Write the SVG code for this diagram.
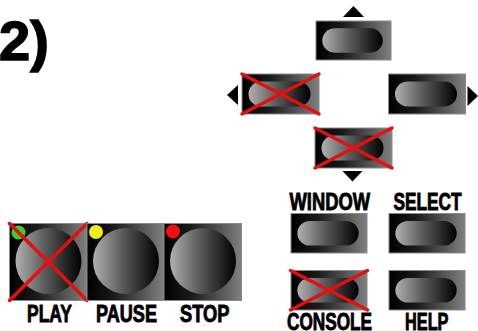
<svg xmlns="http://www.w3.org/2000/svg" width="478" height="331" viewBox="0 0 478 331">
<defs>
<linearGradient id="panel" x1="0" y1="0" x2="1" y2="0">
<stop offset="0" stop-color="#000"/>
<stop offset="0.35" stop-color="#1a1a1a"/>
<stop offset="1" stop-color="#808080"/>
</linearGradient>
<linearGradient id="knob" x1="0" y1="0" x2="1" y2="0">
<stop offset="0" stop-color="#b0b0b0"/>
<stop offset="0.45" stop-color="#5a5a5a"/>
<stop offset="1" stop-color="#000"/>
</linearGradient>
<symbol id="btn" viewBox="0 0 77 40" overflow="visible">
<rect x="0" y="0" width="77" height="40" fill="url(#panel)" stroke="#8a8a8a" stroke-width="1"/>
<rect x="6.5" y="7.5" width="62" height="25" rx="12.5" fill="url(#knob)"/>
</symbol>
</defs>
<style>
.lbl{font-family:"Liberation Sans","Arial",sans-serif;font-weight:bold;font-size:23.5px;fill:#000;stroke:#000;stroke-width:0.9}
.x{stroke:#e41010;stroke-width:3.5;stroke-linecap:round}
.arr{fill:#000}
</style>
<g id="title"><text x="-1" y="60" font-family="Liberation Sans, Arial, sans-serif" font-weight="bold" font-size="56" stroke="#000" stroke-width="1.5">2)</text></g>

<g id="up">
<polygon class="arr" points="353.5,6 364,17 343,17"/>
<use href="#btn" x="315" y="21" width="77" height="39"/>
</g>
<g id="left">
<polygon class="arr" points="227,95 238,85 238,105"/>
<use href="#btn" x="242" y="74" width="77" height="40"/>
<line class="x" x1="242" y1="74" x2="319" y2="114"/>
<line class="x" x1="319" y1="74" x2="242" y2="114"/>
</g>
<g id="right">
<use href="#btn" x="388.5" y="74" width="77" height="40"/>
<polygon class="arr" points="478,96 467.5,86 467.5,106"/>
</g>
<g id="down">
<use href="#btn" x="315" y="128" width="77" height="40"/>
<line class="x" x1="315" y1="128" x2="392" y2="168"/>
<line class="x" x1="392" y1="128" x2="315" y2="168"/>
<polygon class="arr" points="352.5,181.5 342.5,171 362.5,171"/>
</g>

<g id="window">
<text class="lbl" x="289.5" y="209.5" textLength="80.5" lengthAdjust="spacingAndGlyphs">WINDOW</text>
<use href="#btn" x="290.5" y="213.5" width="77" height="39.5"/>
</g>
<g id="select">
<text class="lbl" x="393.5" y="209.5" textLength="68" lengthAdjust="spacingAndGlyphs">SELECT</text>
<use href="#btn" x="388.5" y="213.5" width="77" height="39.5"/>
</g>
<g id="console">
<use href="#btn" x="290.5" y="270.5" width="77" height="39.5"/>
<line class="x" x1="290.5" y1="270.5" x2="367.5" y2="310"/>
<line class="x" x1="367.5" y1="270.5" x2="290.5" y2="310"/>
<text class="lbl" x="287" y="330" textLength="85" lengthAdjust="spacingAndGlyphs">CONSOLE</text>
</g>
<g id="help">
<use href="#btn" x="388.5" y="270.5" width="77" height="39.5"/>
<text class="lbl" x="405" y="330" textLength="43.5" lengthAdjust="spacingAndGlyphs">HELP</text>
</g>

<g id="play">
<rect x="9.5" y="223.5" width="77.5" height="77" fill="url(#panel)" stroke="#8a8a8a"/>
<circle cx="48.5" cy="261" r="33" fill="url(#knob)"/>
<circle cx="18.5" cy="232.5" r="7" fill="#3ad22a"/>
<line class="x" x1="9.5" y1="223.5" x2="87" y2="300.5"/>
<line class="x" x1="87" y1="223.5" x2="9.5" y2="300.5"/>
<text class="lbl" x="27" y="321.5" textLength="45" lengthAdjust="spacingAndGlyphs">PLAY</text>
</g>
<g id="pause">
<rect x="87" y="223.5" width="77" height="77" fill="url(#panel)" stroke="#8a8a8a"/>
<circle cx="126" cy="261" r="33" fill="url(#knob)"/>
<circle cx="96" cy="232" r="7" fill="#f2ee1a"/>
<text class="lbl" x="96" y="321.5" textLength="61" lengthAdjust="spacingAndGlyphs">PAUSE</text>
</g>
<g id="stop">
<rect x="164" y="223.5" width="77.5" height="77" fill="url(#panel)" stroke="#8a8a8a"/>
<circle cx="203" cy="261" r="33" fill="url(#knob)"/>
<circle cx="173" cy="231.5" r="7" fill="#f01010"/>
<text class="lbl" x="180" y="321.5" textLength="49.5" lengthAdjust="spacingAndGlyphs">STOP</text>
</g>
<g id="connectors"/>
</svg>
